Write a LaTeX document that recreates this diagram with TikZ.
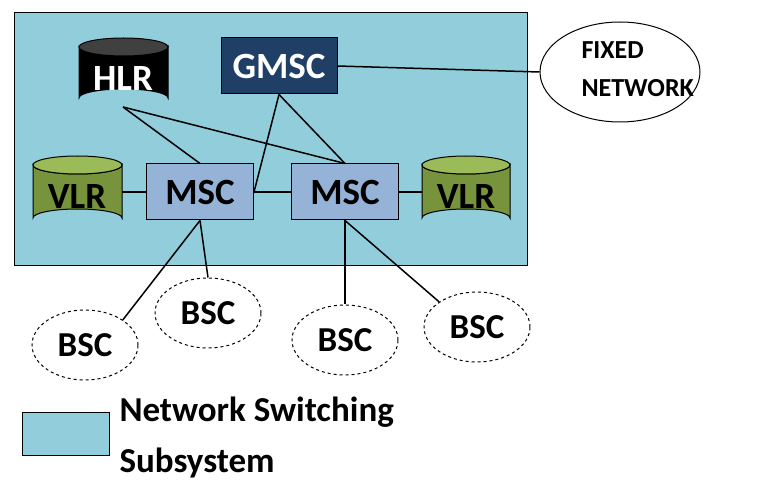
\documentclass[tikz,border=0pt]{standalone}
\usepackage{fontspec}
\setmainfont{Carlito}
\usetikzlibrary{shapes.geometric}
\begin{document}
\begin{tikzpicture}[x=1pt,y=-1pt,
  big/.style={font=\bfseries\fontsize{37}{40}\selectfont},
  box/.style={draw=black,line width=1pt,fill=msc,minimum width=107pt,minimum height=56pt,big},
  bsc/.style={draw=black,dashed,line width=1pt,ellipse,minimum width=106pt,minimum height=70pt,font=\bfseries\fontsize{35}{38}\selectfont},
  ln/.style={line width=1.5pt,black}]
\definecolor{nss}{HTML}{92CDDC}
\definecolor{msc}{HTML}{95B3D7}
\definecolor{gmsc}{HTML}{1F3F66}
\definecolor{vlr}{HTML}{77933C}
\definecolor{vlrtop}{HTML}{9BBB59}
\useasboundingbox (0,0) rectangle (763,494);
\fill[white] (0,0) rectangle (763,494);
\node[draw=black,line width=1pt,fill=nss,anchor=north west,minimum width=513pt,minimum height=253pt,inner sep=0] (nssbox) at (14,12) {};
\newcommand{\cyl}[6]{% x1 x2 ytop ybot fill topfill
  \filldraw[fill=#5,draw=black,line width=1pt] (#1,#3) -- (#1,#4) arc[start angle=180,end angle=360,x radius={(#2-#1)/2},y radius=9] -- (#2,#3) arc[start angle=0,end angle=180,x radius={(#2-#1)/2},y radius=9] -- cycle;
  \filldraw[fill=#6,draw=black,line width=1pt] ({(#1+#2)/2},#3) ellipse[x radius={(#2-#1)/2},y radius=9];}
\cyl{79}{168}{47}{98}{black}{black!75}
\node[big,text=white] (hlr) at (123,79) {HLR};
\coordinate (hlrb) at (123,107);
\cyl{33}{122}{165}{218}{vlr}{vlrtop}
\node[big] (vlr1) at (77,197) {VLR};
\coordinate (vlr1r) at (122,192);
\cyl{422}{510}{165}{218}{vlr}{vlrtop}
\node[big] (vlr2) at (466,197) {VLR};
\coordinate (vlr2l) at (422,192);
\node[draw=black,line width=1pt,fill=gmsc,text=white,minimum width=116pt,minimum height=56pt,big] (gmsc) at (279,66) {GMSC};
\node[box] (msc1) at (200,192) {MSC};
\node[box] (msc2) at (345,192) {MSC};
\node[draw=black,line width=1pt,ellipse,minimum width=160pt,minimum height=100pt] (fixed) at (620,72) {};
\node[anchor=west,align=left,font=\bfseries\fontsize{26}{38}\selectfont] (fixedt) at (578,69) {FIXED\\NETWORK};
\node[bsc] (b1) at (85,345) {BSC};
\node[bsc] (b2) at (208,313) {BSC};
\node[bsc] (b3) at (345,340) {BSC};
\node[bsc] (b4) at (477,327) {BSC};
\draw[ln] (hlrb) -- (msc1.north);
\draw[ln] (hlrb) -- (msc2.north);
\draw[ln] (gmsc.south) -- (msc1.east);
\draw[ln] (gmsc.south) -- (msc2.north);
\draw[ln] (gmsc.east) -- (fixed.west);
\draw[ln] (vlr1r) -- (msc1.west);
\draw[ln] (msc1.east) -- (msc2.west);
\draw[ln] (msc2.east) -- (vlr2l);
\draw[ln] (msc1.south) -- (b1.north east);
\draw[ln] (msc1.south) -- (b2.north);
\draw[ln] (msc2.south) -- (b3.north);
\draw[ln] (msc2.south) -- (b4.north west);
\node[draw=black,line width=1pt,fill=nss,anchor=north west,minimum width=87pt,minimum height=43pt,inner sep=0] (leg) at (22,412) {};
\node[anchor=west,font=\bfseries\fontsize{35}{38}\selectfont] (legt1) at (116,412) {Network Switching};
\node[anchor=west,font=\bfseries\fontsize{35}{38}\selectfont] (legt2) at (116,463) {Subsystem};
\end{tikzpicture}
\end{document}
